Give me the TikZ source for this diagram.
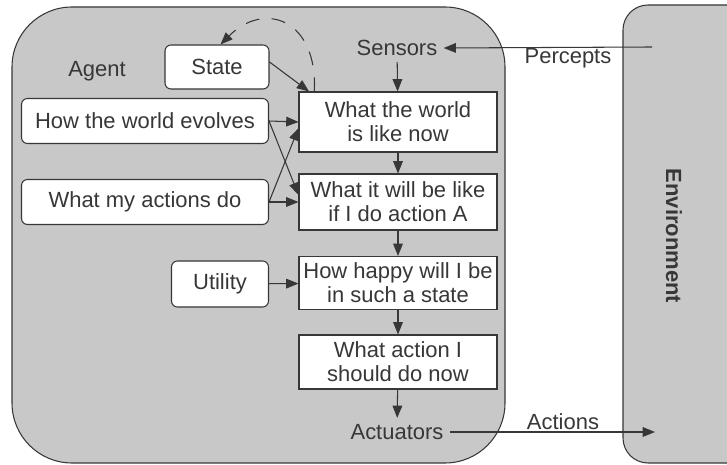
\documentclass[tikz,border=0pt]{standalone}
\usepackage{fontspec}
\setmainfont{Liberation Sans}
\usetikzlibrary{arrows.meta}
\definecolor{agentgray}{RGB}{200,200,200}
\definecolor{inkgray}{RGB}{55,55,55}
\tikzset{every path/.style={line width=.6pt}}
\tikzset{
  rulebox/.style={draw=inkgray, fill=white, minimum width=3.96cm, align=center, inner sep=1pt},
  knowbox/.style={draw=inkgray, fill=white, rounded corners=.12cm, align=center, minimum height=.9cm},
  flow/.style={draw=inkgray, -{Triangle[length=7pt,width=5.5pt]}},
}

\begin{document}
\begin{tikzpicture}[x=.02cm, y=-.02cm, font=\fontsize{12.5}{13.5}\selectfont, text=inkgray]
\useasboundingbox (0,0) rectangle (727,465);

%agent and environment
\draw[draw=inkgray, fill=agentgray, rounded corners=1.2cm] (12,7) rectangle (505,463);
\draw[draw=inkgray, fill=agentgray, rounded corners=.5cm] (623,5) rectangle (760,463);
\node[rotate=-90, font=\fontsize{12.5}{13.5}\bfseries] (env) at (674,236) {Environment};
\node (agent) at (97,71) {Agent};

%rule column
\node (sensors) at (397,48) {Sensors};
\node[rulebox, minimum height=1.2cm] (world) at (398,122) {What the world\\is like now};
\node[rulebox, minimum height=1.12cm] (willbe) at (398,202) {What it will be like\\if I do action A};
\node[rulebox, minimum height=1.06cm] (happy) at (398,283) {How happy will I be\\in such a state};
\node[rulebox, minimum height=1.08cm] (action) at (398,362) {What action I\\should do now};
\node (actuators) at (397,432) {Actuators};

%knowledge
\node[knowbox, minimum width=2.08cm, minimum height=.88cm] (state) at (217,67) {State};
\node[knowbox, minimum width=4.94cm] (evolves) at (145,121) {How the world evolves};
\node[knowbox, minimum width=4.94cm] (actdo) at (145,202) {What my actions do};
\node[knowbox, minimum width=1.94cm, minimum height=.92cm] (utility) at (220,284) {Utility};

%outside
\node (percepts) at (568,58) {Percepts};
\node (actions) at (563,422) {Actions};
\coordinate (percin) at (652,47);
\coordinate (actout) at (655,432);

\draw[flow] (percin) -- (sensors.east);
\draw[flow] (actuators.east) -- (actout);
\draw[flow] (sensors) -- (world);
\draw[flow] (world) -- (willbe);
\draw[flow] (willbe) -- (happy);
\draw[flow] (happy) -- (action);
\draw[flow] (action) -- (actuators);

\draw[flow] (state.east) ++(0,-5) -- ([xshift=6pt]world.north west);
\draw[flow, dash pattern=on 8pt off 7pt] ([xshift=9pt]world.north west) .. controls (318,20) and (265,0) .. ([xshift=2pt]state.north);
\draw[flow] (evolves.east) -- (world.west);
\draw[flow] (evolves.east) -- ([yshift=4pt]willbe.west);
\draw[flow] (actdo.east) -- ([yshift=-3.5pt]world.west);
\draw[flow] (actdo.east) -- (willbe.west);
\draw[flow] (utility) -- (happy);
\end{tikzpicture}
\end{document}
